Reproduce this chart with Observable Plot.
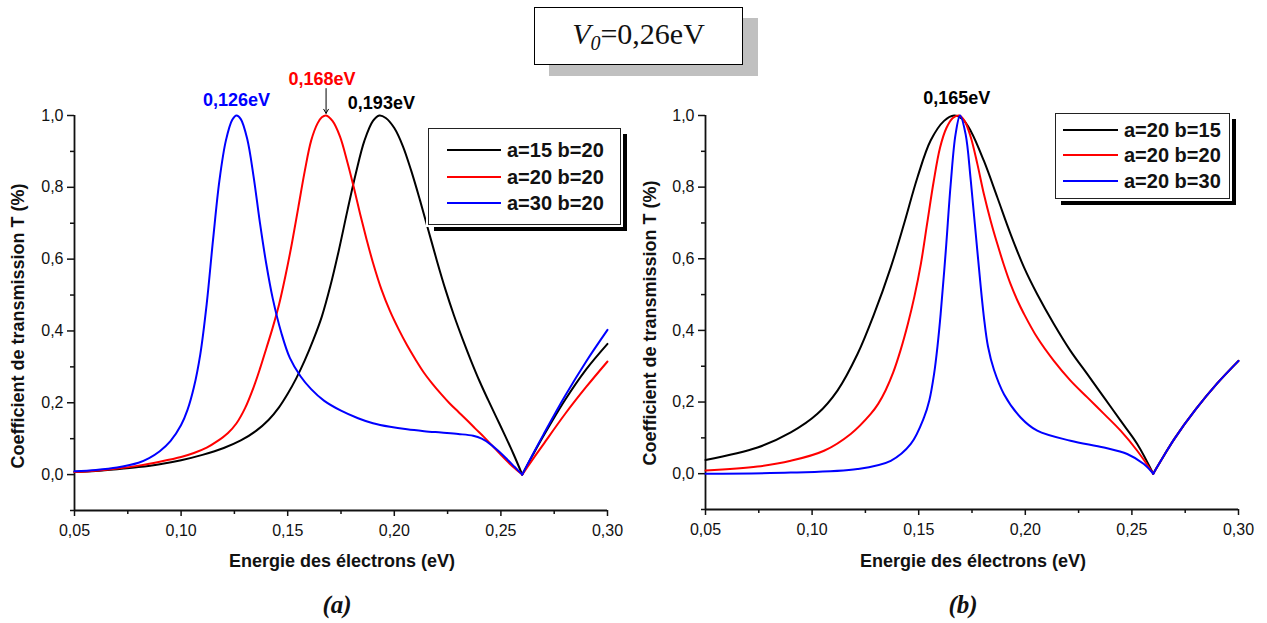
<!DOCTYPE html>
<html><head><meta charset="utf-8">
<script src="https://cdn.jsdelivr.net/npm/d3@7"></script>
<script src="https://cdn.jsdelivr.net/npm/@observablehq/plot@0.6"></script>
<style>
body{margin:0;background:#fff;}
#wrap{position:relative;width:1267px;height:623px;overflow:hidden;font-family:"Liberation Sans",Arial,sans-serif;color:#111;}
.abs{position:absolute;}
.svgbox{position:absolute;top:80px;}
.title{left:534px;top:7px;width:207px;height:56px;border:1.5px solid #000;background:#fff;box-shadow:15px 11px 0 0 #c0c0c0;
  font-family:"Liberation Serif","Times New Roman",serif;font-size:30px;display:flex;align-items:center;justify-content:center;}
.legend{background:#fff;border:1px solid #222;box-shadow:0 0 0 2px #fff,6px 6px 0 0 #000;}
.row{position:absolute;left:0;height:20px;display:flex;align-items:center;font-weight:bold;font-size:20px;white-space:nowrap;}
.row .sw{display:inline-block;height:2px;margin-right:6px;}
.xt{font-weight:bold;font-size:18px;white-space:nowrap;transform:translate(-50%,-50%);}
.yt{font-weight:bold;font-size:18px;white-space:nowrap;transform:translate(-50%,-50%) rotate(-90deg);}
.pl{font-family:"Liberation Serif","Times New Roman",serif;font-weight:bold;font-style:italic;font-size:25px;transform:translate(-50%,-50%);}
</style></head><body><div id="wrap"></div>
<script>
// ---------- data ----------
const seriesA = ["a=15 b=20", "a=20 b=20", "a=30 b=20"];
const seriesB = ["a=20 b=15", "a=20 b=20", "a=20 b=30"];
const seriesColors = ["#000000", "#ff0000", "#0000ff"];
const V0 = 0.26;

// panel (a)
const energyA1 = [0.05,0.06,0.07,0.08,0.09,0.10,0.11,0.12,0.128,0.135,0.141,0.146,0.15,0.154,0.158,0.162,0.166,0.17,0.174,0.178,0.182,0.186,0.19,0.193,0.196,0.2,0.204,0.208,0.212,0.216,0.22,0.224,0.228,0.232,0.236,0.24,0.244,0.248,0.252,0.256,0.26,0.265,0.27,0.28,0.29,0.30];
const transA1  = [0.007,0.01,0.015,0.021,0.029,0.04,0.055,0.074,0.095,0.121,0.152,0.188,0.225,0.268,0.318,0.375,0.44,0.525,0.625,0.735,0.84,0.93,0.985,1.0,0.993,0.965,0.915,0.845,0.765,0.68,0.595,0.515,0.443,0.378,0.317,0.26,0.208,0.158,0.108,0.056,0,0.055,0.108,0.207,0.293,0.364];
const energyA2 = [0.05,0.06,0.07,0.08,0.09,0.10,0.106,0.112,0.117,0.122,0.126,0.13,0.134,0.137,0.14,0.143,0.146,0.149,0.152,0.155,0.158,0.161,0.164,0.166,0.168,0.171,0.1745,0.178,0.181,0.184,0.187,0.19,0.194,0.198,0.202,0.206,0.21,0.214,0.218,0.222,0.226,0.23,0.234,0.238,0.242,0.246,0.25,0.254,0.257,0.26,0.265,0.27,0.28,0.29,0.30];
const transA2  = [0.007,0.011,0.017,0.025,0.036,0.049,0.06,0.075,0.093,0.116,0.143,0.185,0.243,0.295,0.352,0.41,0.475,0.555,0.645,0.745,0.845,0.93,0.978,0.995,1.0,0.985,0.942,0.87,0.80,0.725,0.655,0.59,0.515,0.455,0.405,0.36,0.32,0.283,0.252,0.224,0.198,0.175,0.152,0.128,0.105,0.08,0.055,0.031,0.015,0,0.043,0.085,0.168,0.244,0.315];
const energyA3 = [0.05,0.06,0.07,0.08,0.085,0.09,0.095,0.10,0.103,0.106,0.109,0.112,0.115,0.118,0.121,0.124,0.126,0.128,0.131,0.134,0.137,0.14,0.143,0.147,0.151,0.156,0.161,0.167,0.175,0.183,0.19,0.198,0.206,0.214,0.222,0.23,0.237,0.241,0.245,0.249,0.253,0.2565,0.26,0.265,0.27,0.28,0.29,0.30];
const transA3  = [0.009,0.013,0.02,0.033,0.046,0.065,0.093,0.138,0.18,0.243,0.335,0.475,0.655,0.82,0.93,0.988,1.0,0.99,0.935,0.83,0.70,0.585,0.49,0.395,0.325,0.274,0.238,0.206,0.178,0.157,0.143,0.133,0.126,0.121,0.117,0.113,0.108,0.1,0.085,0.065,0.042,0.021,0,0.057,0.112,0.218,0.315,0.403];

// panel (b)
const energyB1 = [0.05,0.0744,0.09,0.1025,0.1119,0.1213,0.1291,0.1369,0.1431,0.1494,0.1556,0.1619,0.1666,0.1705,0.1744,0.1806,0.1869,0.1931,0.1994,0.2056,0.2134,0.2212,0.2291,0.2369,0.2447,0.2525,0.26,0.265,0.27,0.28,0.29,0.30];
const transB1  = [0.038,0.073,0.115,0.167,0.232,0.334,0.446,0.576,0.697,0.827,0.93,0.985,1.0,0.99,0.957,0.873,0.771,0.669,0.576,0.501,0.418,0.343,0.278,0.213,0.148,0.083,0,0.05,0.098,0.18,0.252,0.315];
const energyB2 = [0.05,0.0744,0.09,0.1056,0.1181,0.1275,0.131,0.1345,0.138,0.1415,0.145,0.148,0.151,0.154,0.157,0.16,0.163,0.166,0.169,0.1715,0.1744,0.1775,0.1806,0.1838,0.1869,0.19,0.1931,0.1962,0.1994,0.2056,0.2134,0.2212,0.2291,0.2369,0.2447,0.2525,0.26,0.265,0.27,0.28,0.29,0.30];
const transB2  = [0.009,0.02,0.036,0.064,0.111,0.167,0.195,0.233,0.282,0.345,0.42,0.495,0.585,0.70,0.815,0.91,0.965,0.993,1.0,0.985,0.94,0.865,0.78,0.705,0.641,0.582,0.529,0.485,0.446,0.38,0.315,0.26,0.213,0.167,0.12,0.064,0,0.05,0.098,0.18,0.252,0.315];
const energyB3 = [0.05,0.09,0.1213,0.1369,0.1463,0.1525,0.155,0.1572,0.1588,0.1603,0.1627,0.165,0.1673,0.1694,0.172,0.1744,0.1775,0.1806,0.1825,0.1853,0.19,0.1978,0.2056,0.2212,0.2369,0.2478,0.2556,0.26,0.265,0.27,0.28,0.29,0.30];
const transB3  = [0,0.003,0.013,0.036,0.083,0.157,0.205,0.278,0.355,0.446,0.622,0.808,0.948,1.0,0.948,0.82,0.622,0.436,0.355,0.29,0.222,0.157,0.12,0.092,0.073,0.055,0.027,0,0.05,0.098,0.18,0.252,0.315];

// axis ticks
const xMajorTicks = [0.05,0.10,0.15,0.20,0.25,0.30];
const xMinorTicks = [0.075,0.125,0.175,0.225,0.275];
const yMajorTicks = [0,0.2,0.4,0.6,0.8,1.0];
const yMinorTicks = [-0.1,0.1,0.3,0.5,0.7,0.9];

// peak annotations
const peaksA = [
  {E:0.126, T:1, label:"0,126eV", color:"#0000ff"},
  {E:0.168, T:1, label:"0,168eV", color:"#ff0000"},
  {E:0.193, T:1, label:"0,193eV", color:"#000000"}
];
const peaksB = [{E:0.165, T:1, label:"0,165eV", color:"#000000"}];
const arrowA = [{E:0.168, from:1.075, to:1.006}];

// ---------- build ----------
function rows(E, T, s, color) {
  const out = [];
  E.forEach((e, i) => {
    if (e <= V0) out.push({E:e, T:T[i], series:s, seg:0, color});
    if (e >= V0) out.push({E:e, T:T[i], series:s, seg:1, color});
  });
  return out;
}
const dataA = [
  ...rows(energyA1, transA1, seriesA[0], seriesColors[0]),
  ...rows(energyA2, transA2, seriesA[1], seriesColors[1]),
  ...rows(energyA3, transA3, seriesA[2], seriesColors[2])
];
const dataB = [
  ...rows(energyB1, transB1, seriesB[0], seriesColors[0]),
  ...rows(energyB2, transB2, seriesB[1], seriesColors[1]),
  ...rows(energyB3, transB3, seriesB[2], seriesColors[2])
];

const fx = d => d.toFixed(2).replace(".", ",");
const fy = d => d.toFixed(1).replace(".", ",");

function panel(data, cfg) {
  return Plot.plot({
    width: cfg.width, height: 500,
    marginLeft: cfg.ml, marginRight: cfg.mr, marginTop: 35, marginBottom: cfg.mb,
    x: {domain: [0.05, 0.30], label: null},
    y: {domain: [-0.1, 1.0], label: null},
    color: {type: "identity"},
    style: {fontFamily: "'Liberation Sans', Arial, sans-serif", fontSize: "16px", color: "#111", background: "transparent", overflow: "visible"},
    marks: [
      Plot.axisX(xMajorTicks, {tickSize: 6, tickPadding: 8, tickFormat: fx, strokeWidth: 1.5, label: null, fontSize: 16}),
      Plot.axisX(xMinorTicks, {tickSize: 4, fill: "none", strokeWidth: 1.5, label: null}),
      Plot.axisY(yMajorTicks, {tickSize: 7, tickPadding: 4, tickFormat: fy, strokeWidth: 1.5, label: null, fontSize: 16}),
      Plot.axisY(yMinorTicks, {tickSize: 4, fill: "none", strokeWidth: 1.5, label: null}),
      Plot.ruleX([0.05], {stroke: "#111", strokeWidth: 1.8}),
      Plot.ruleY([-0.1], {stroke: "#111", strokeWidth: 1.8}),
      Plot.line(data, {x: "E", y: "T", z: d => d.series + "|" + d.seg, stroke: "color", strokeWidth: 2, curve: "catmull-rom"}),
      ...cfg.labels.map((p, i) => Plot.text([p], {x: "E", y: "T", text: "label", fill: "color", dx: cfg.dx[i], dy: cfg.dy[i], fontWeight: "bold", fontSize: 18})),
      ...(cfg.arrows ? [Plot.arrow(cfg.arrows, {x1: "E", x2: "E", y1: "from", y2: "to", stroke: "#000", strokeWidth: 1, headLength: 7})] : [])
    ]
  });
}

const wrap = document.getElementById("wrap");
function add(el, cls, left, top, extra) {
  el.className = cls;
  el.style.left = left + "px"; el.style.top = top + "px";
  if (extra) Object.assign(el.style, extra);
  wrap.appendChild(el); return el;
}

const pA = panel(dataA, {width: 630, ml: 74, mr: 23, mb: 70, labels: peaksA, dx: [0, -4, 2], dy: [-15, -36, -12], arrows: arrowA});
const boxA = document.createElement("div"); add(boxA, "svgbox", 0, 80); boxA.appendChild(pA);
const pB = panel(dataB, {width: 637, ml: 75, mr: 29, mb: 71, labels: peaksB, dx: [6], dy: [-17]});
const boxB = document.createElement("div"); add(boxB, "svgbox", 630, 80); boxB.appendChild(pB);

// title
const t = document.createElement("div");
t.innerHTML = '<span><i>V<sub style="font-size:20px;vertical-align:-6px">0</sub></i>=0,26eV</span>';
add(t, "abs title", 534, 7);

// legends
function legend(left, top, w, h, names, rowY, lineX, lineW, textGap) {
  const lg = document.createElement("div");
  add(lg, "abs legend", left, top, {width: w + "px", height: h + "px"});
  names.forEach((n, i) => {
    const r = document.createElement("div");
    r.className = "row";
    r.style.top = (rowY[i] - 10) + "px";
    r.style.left = lineX + "px";
    r.innerHTML = `<span class="sw" style="width:${lineW}px;background:${seriesColors[i]};margin-right:${textGap}px"></span><span>${n}</span>`;
    lg.appendChild(r);
  });
}
legend(428, 128, 191, 95, seriesA, [21, 48, 74], 18, 54, 6);
legend(1055, 113, 173, 84, seriesB, [16, 41, 67], 7, 55, 6);

// axis titles
const xt = "Energie des électrons (eV)";
const yt = "Coefficient de transmission T (%)";
[[342, 561], [973, 561]].forEach(([x, y]) => { const d = document.createElement("div"); d.textContent = xt; add(d, "abs xt", x, y); });
[[18, 326], [650, 323]].forEach(([x, y]) => { const d = document.createElement("div"); d.textContent = yt; add(d, "abs yt", x, y); });
// panel labels
[["(a)", 337, 605], ["(b)", 963, 605]].forEach(([s, x, y]) => { const d = document.createElement("div"); d.textContent = s; add(d, "abs pl", x, y); });
</script>
</body></html>
